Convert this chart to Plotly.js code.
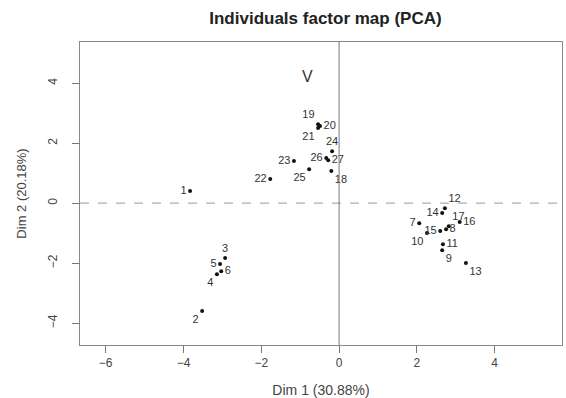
<!DOCTYPE html>
<html><head><meta charset="utf-8">
<script src="https://cdn.plot.ly/plotly-3.0.1.min.js"></script>
<style>html,body{margin:0;padding:0;background:#fff;}</style>
</head><body><div id="chart" style="width:566px;height:398px;"></div>
<script>
const labels = ["1","2","3","4","5","6","7","8","9","10","11","12","13","14","15","16","17","18","19","20","21","22","23","24","25","26","27"];
const dim1 = [-3.83,-3.52,-2.93,-3.14,-3.06,-3.03,2.06,2.75,2.65,2.26,2.67,2.72,3.26,2.65,2.6,3.1,2.82,-0.2,-0.54,-0.49,-0.54,-1.77,-1.16,-0.18,-0.77,-0.33,-0.28];
const dim2 = [0.4,-3.6,-1.83,-2.37,-2.03,-2.27,-0.67,-0.87,-1.57,-1.0,-1.37,-0.17,-2.0,-0.33,-0.93,-0.63,-0.77,1.07,2.63,2.57,2.5,0.8,1.4,1.73,1.13,1.5,1.43];
const labelPos = ["middle left","bottom left","top center","bottom left","middle left","middle right","middle left","middle right","bottom right","bottom left","middle right","top right","bottom right","middle left","middle left","middle right","top right","bottom right","top left","middle right","bottom left","middle left","middle left","top center","bottom left","middle left","middle right"];
const xTicks = [-6,-4,-2,0,2,4];
const yTicks = [-4,-2,0,2,4];
const xTitle = "Dim 1 (30.88%)";
const yTitle = "Dim 2 (20.18%)";
const chartTitle = "Individuals factor map (PCA)";
const noteText = "V";
const noteX = -0.82, noteY = 4.23;

const FONT = 'Liberation Sans, Arial, sans-serif';
const trace = {
  x: dim1, y: dim2, text: labels, type: 'scatter', mode: 'markers+text',
  textposition: labelPos,
  marker: {color: '#111', size: 4},
  textfont: {family: FONT, size: 11, color: '#333'},
  hoverinfo: 'none', cliponaxis: false
};
const axisBase = {
  showgrid: false, zeroline: false, showline: true, mirror: true,
  linecolor: '#888', linewidth: 1, ticks: 'outside', ticklen: 7, tickcolor: '#777',
  tickfont: {family: FONT, size: 12, color: '#444'}
};
const layout = {
  width: 566, height: 398,
  margin: {l: 80, r: 4, t: 42, b: 53},
  paper_bgcolor: '#fff', plot_bgcolor: '#fff',
  showlegend: false,
  title: {text: '<b>' + chartTitle + '</b>', x: 0.575, xanchor: 'center', y: 0.955, yanchor: 'middle',
    font: {family: FONT, size: 17, color: '#222'}},
  xaxis: Object.assign({}, axisBase, {range: [-6.66, 5.73], tickvals: xTicks,
    title: {text: xTitle, standoff: 16, font: {family: FONT, size: 14, color: '#444'}}}),
  yaxis: Object.assign({}, axisBase, {range: [-4.73, 5.37], tickvals: yTicks, tickangle: -90,
    ticklabelstandoff: 10,
    title: {text: yTitle, standoff: 16, font: {family: FONT, size: 13, color: '#444'}}}),
  shapes: [
    {type: 'line', xref: 'paper', x0: 0, x1: 1, yref: 'y', y0: 0, y1: 0, line: {color: '#999', width: 1, dash: 'dash'}},
    {type: 'line', yref: 'paper', y0: 0, y1: 1, xref: 'x', x0: 0, x1: 0, line: {color: '#777', width: 1}}
  ],
  annotations: [
    {x: noteX, y: noteY, xref: 'x', yref: 'y', text: noteText, showarrow: false,
     font: {family: FONT, size: 16, color: '#333'}}
  ]
};
Plotly.newPlot('chart', [trace], layout, {staticPlot: true, displayModeBar: false});
</script></body></html>
